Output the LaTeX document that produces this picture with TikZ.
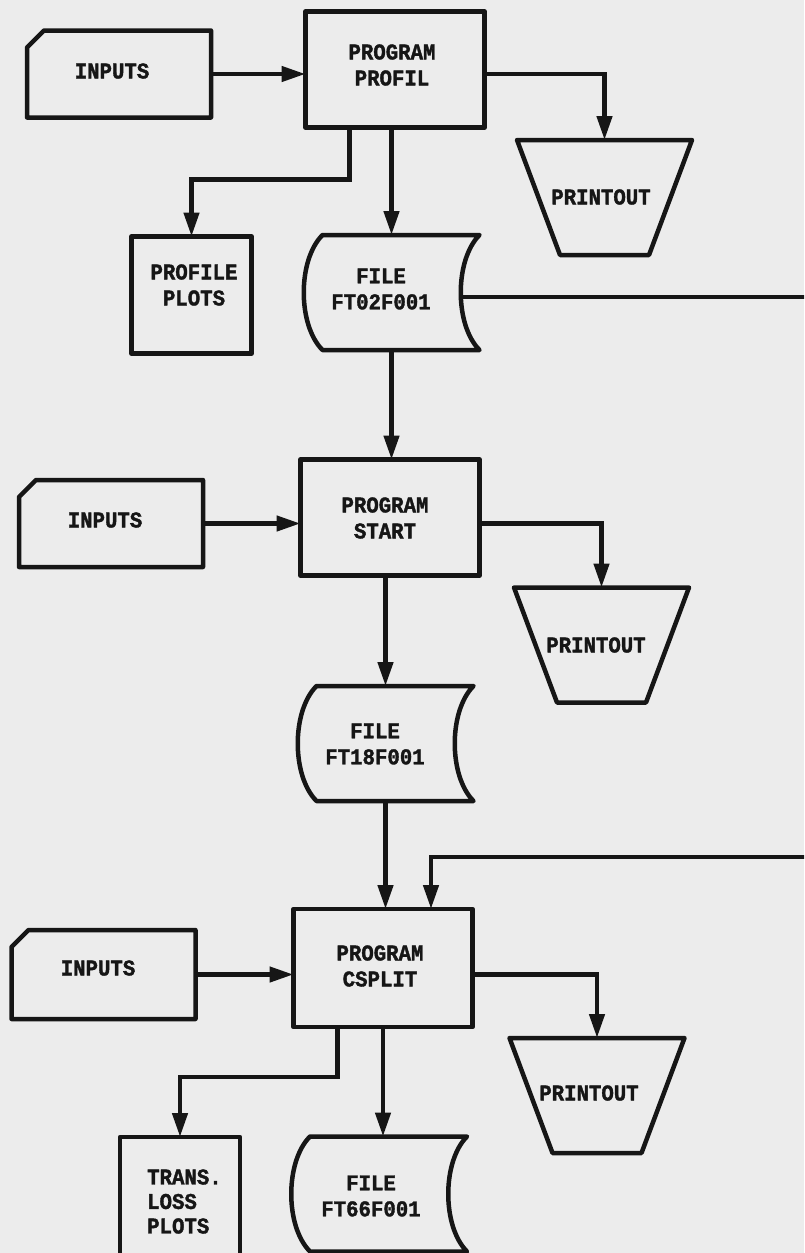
\documentclass[tikz,border=0pt]{standalone}
\usepackage{fontspec}
\newfontfamily\twfont{Liberation Mono}[FakeStretch=0.92,BoldFeatures={FakeBold=1.6}]
\usetikzlibrary{arrows.meta,calc}
\definecolor{paper}{RGB}{236,236,236}
\definecolor{ink}{RGB}{22,22,22}
\newcommand\lblfont{\twfont\bfseries\fontsize{22.5}{26}\selectfont}
\newcommand\transfont{\twfont\bfseries\fontsize{22.5}{24.5}\selectfont}
% card (punched card) outline drawn on an empty named node
\newcommand\cardpath[1]{\draw[shp] ($(#1.north west)+(17,0)$) -- (#1.north east) -- (#1.south east) -- (#1.south west) -- ($(#1.north west)+(0,17)$) -- cycle;}
% stored-data (file) outline
\newcommand\filepath[1]{\draw[shp] ($(#1.north west)+(19,0)$) -- (#1.north east)
  .. controls ($(#1.north east)+(-25,25)$) and ($(#1.south east)+(-25,-25)$) .. (#1.south east)
  -- ($(#1.south west)+(19,0)$)
  .. controls ($(#1.south west)+(-6,-25)$) and ($(#1.north west)+(-6,25)$) .. ($(#1.north west)+(19,0)$) -- cycle;}
% printout (trapezium) outline
\newcommand\prtpath[1]{\draw[shp] (#1.north west) -- (#1.north east) -- ($(#1.south east)+(-43,0)$) -- ($(#1.south west)+(43,0)$) -- cycle;}
\begin{document}
\begin{tikzpicture}[x=1pt,y=-1pt,
  shp/.style={draw=ink,line width=4.5pt,line join=round},
  cardbox/.style={inner sep=0pt,outer sep=0pt,minimum width=184pt,minimum height=87pt},
  progbox/.style={shp,rectangle,inner sep=0pt,outer sep=0pt,minimum width=179pt,minimum height=116pt},
  plotbox/.style={shp,rectangle,inner sep=0pt,outer sep=0pt,minimum width=120pt,minimum height=117pt},
  filebox/.style={inner sep=0pt,outer sep=0pt,minimum width=176pt,minimum height=115pt},
  prtbox/.style={inner sep=0pt,outer sep=0pt,minimum width=175pt,minimum height=115pt},
  lbl/.style={font=\lblfont,text=ink,align=center,inner sep=0pt},
  wire/.style={draw=ink,line width=4.5pt},
  arr/.style={wire,-{Triangle[length=24pt,width=15pt]}}]
\useasboundingbox (0,0) rectangle (804,1253);
\clip (0,0) rectangle (804,1253);
\fill[paper] (0,0) rectangle (804,1253);

% ---------- row 1 ----------
\node[cardbox] (in1) at (119,74) {};
\cardpath{in1}
\node[progbox] (prof) at (395,69.5) {};
\node[prtbox] (pr1) at (604.5,197.5) {};
\prtpath{pr1}
\node[plotbox] (plots1) at (191.5,295) {};
\node[filebox] (file1) at (391.5,292.5) {};
\filepath{file1}

% ---------- row 2 ----------
\node[cardbox] (in2) at (111,523.5) {};
\cardpath{in2}
\node[progbox] (start) at (390,517.5) {};
\node[prtbox] (pr2) at (601.5,645) {};
\prtpath{pr2}
\node[filebox] (file2) at (385.5,743.5) {};
\filepath{file2}

% ---------- row 3 ----------
\node[cardbox,minimum height=89pt] (in3) at (103.5,974.5) {};
\cardpath{in3}
\node[progbox,minimum height=118pt] (csplit) at (383,968) {};
\node[prtbox] (pr3) at (597,1095.5) {};
\prtpath{pr3}
\node[plotbox,minimum height=118pt] (trans) at (180,1196) {};
\node[filebox] (file3) at (379,1194) {};
\filepath{file3}

% ---------- labels ----------
\node[lbl] (in1t) at (112,71) {INPUTS};
\node[lbl] (proft) at (392,65) {PROGRAM\\PROFIL};
\node[lbl] (pr1t) at (601,197) {PRINTOUT};
\node[lbl] (plots1t) at (194,285) {PROFILE\\PLOTS};
\node[lbl] (file1t) at (381,289) {FILE\\FT02F001};
\node[lbl] (in2t) at (105,520) {INPUTS};
\node[lbl] (startt) at (385,518) {PROGRAM\\START};
\node[lbl] (pr2t) at (596,645) {PRINTOUT};
\node[lbl] (file2t) at (375,744) {FILE\\FT18F001};
\node[lbl] (in3t) at (98,968) {INPUTS};
\node[lbl] (csplitt) at (380,966) {PROGRAM\\CSPLIT};
\node[lbl] (pr3t) at (589,1093) {PRINTOUT};
\node[lbl] (file3t) at (371,1196) {FILE\\FT66F001};
\node[lbl,font=\transfont,align=left,anchor=west] (transt) at (147,1201.5) {TRANS.\\LOSS\\PLOTS};

% ---------- connectors ----------
\coordinate (exit1) at (812,297);
\coordinate (entry3) at (812,857);
\draw[arr] (in1) -- (in1 -| prof.west);
\draw[arr] (prof.east |- in1) -| (pr1.north);
\draw[arr] ($(prof.south west)+(44,0)$) |- ($(plots1.north)+(0,-57)$) -- (plots1.north);
\draw[arr] (file1.north |- prof.south) -- (file1.north);
\draw[wire] ($(file1.east)+(-19,4.5)$) -- (exit1);
\draw[arr] (file1.south) -- (file1.south |- start.north);

\draw[arr] (in2) -- (in2 -| start.west);
\draw[arr] (start.east |- in2) -| (pr2.north);
\draw[arr] (file2.north |- start.south) -- (file2.north);
\draw[arr] (file2.south) -- (file2.south |- csplit.north);

\draw[arr] (entry3) -| ($(csplit.north)+(48,0)$);
\draw[arr] (in3) -- (in3 -| csplit.west);
\draw[arr] (csplit.east |- in3) -| (pr3.north);
\draw[arr] ($(csplit.south west)+(44,0)$) |- ($(trans.north)+(0,-60)$) -- (trans.north);
\draw[arr] (csplit.south) -- (csplit.south |- file3.north);
\end{tikzpicture}
\end{document}
